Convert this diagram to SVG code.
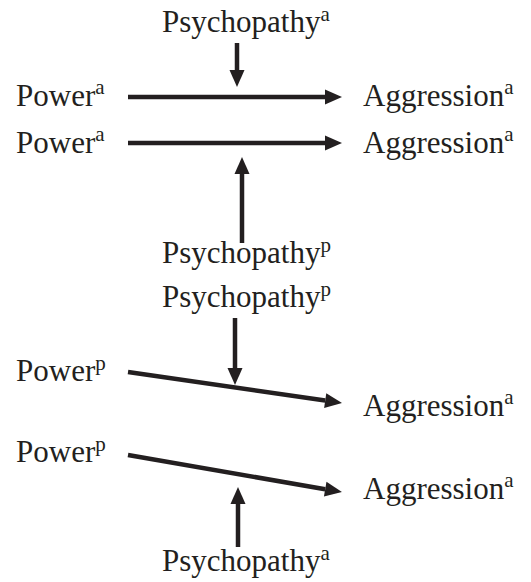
<svg xmlns="http://www.w3.org/2000/svg" width="531" height="582" viewBox="0 0 531 582">
<style>
text{font-family:"Liberation Serif","Times New Roman",serif;font-size:31px;fill:#231f20}
.sup{font-size:21px}
.c{stroke:#231f20;stroke-width:4.5;fill:none;marker-end:url(#ah)}
</style>
<defs>
<marker id="ah" markerUnits="userSpaceOnUse" markerWidth="17" markerHeight="15" refX="0" refY="7.5" orient="auto" overflow="visible">
<path d="M0,0 L17,7.5 L0,15 z" fill="#231f20"/>
</marker>
</defs>
<rect width="531" height="582" fill="#fff"/>
<g id="psy1"><text x="162" y="32">Psychopathy<tspan class="sup" dy="-11">a</tspan></text></g>
<g id="pow1"><text x="16" y="106">Power<tspan class="sup" dy="-12">a</tspan></text></g>
<g id="agg1"><text x="363" y="106">Aggression<tspan class="sup" dy="-12">a</tspan></text></g>
<g id="pow2"><text x="16" y="153">Power<tspan class="sup" dy="-12">a</tspan></text></g>
<g id="agg2"><text x="363" y="153">Aggression<tspan class="sup" dy="-12">a</tspan></text></g>
<g id="psy2"><text x="162" y="263">Psychopathy<tspan class="sup" dy="-11">p</tspan></text></g>
<g id="psy3"><text x="162" y="307">Psychopathy<tspan class="sup" dy="-11">p</tspan></text></g>
<g id="pow3"><text x="16" y="381">Power<tspan class="sup" dy="-11">p</tspan></text></g>
<g id="agg3"><text x="363" y="416">Aggression<tspan class="sup" dy="-12">a</tspan></text></g>
<g id="pow4"><text x="16" y="462">Power<tspan class="sup" dy="-11">p</tspan></text></g>
<g id="agg4"><text x="363" y="499">Aggression<tspan class="sup" dy="-12">a</tspan></text></g>
<g id="psy4"><text x="162" y="571">Psychopathy<tspan class="sup" dy="-11">a</tspan></text></g>
<g id="connectors">
<line class="c" x1="128" y1="97" x2="325" y2="97"/>
<line class="c" x1="237" y1="43" x2="237" y2="70"/>
<line class="c" x1="128" y1="143" x2="325" y2="143"/>
<line class="c" x1="242" y1="243" x2="242" y2="174"/>
<line class="c" x1="235" y1="318" x2="235" y2="368"/>
<line class="c" x1="128" y1="372" x2="325.2" y2="400.6"/>
<line class="c" x1="128" y1="455" x2="325.2" y2="489.2"/>
<line class="c" x1="238" y1="547" x2="238" y2="504"/>
</g>
</svg>
